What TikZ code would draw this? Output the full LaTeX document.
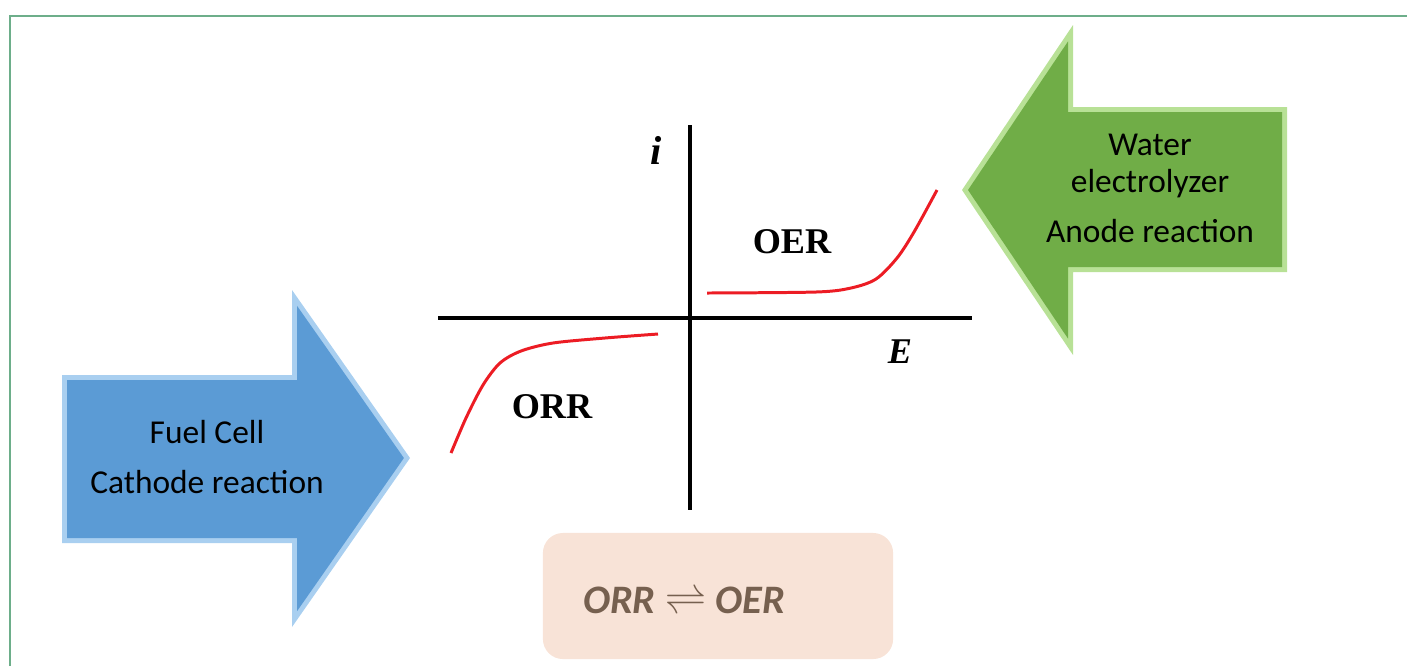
\documentclass[tikz,border=0pt]{standalone}
\usepackage{fontspec}
\setmainfont{Carlito}
\newfontfamily\plotfont{Liberation Serif}
\definecolor{framegreen}{HTML}{6DAE8A}
\definecolor{bluemain}{HTML}{5B9BD5}
\definecolor{blueedge}{HTML}{A9CFF0}
\definecolor{greenmain}{HTML}{70AD47}
\definecolor{greenedge}{HTML}{B8E196}
\definecolor{curvered}{HTML}{EC1C24}
\definecolor{boxfill}{HTML}{F8E3D7}
\definecolor{boxtext}{HTML}{76604F}
\begin{document}
\begin{tikzpicture}[x=.01cm,y=-.01cm,arrowtext/.style={font=\fontsize{9.5}{11}\selectfont},plotlabel/.style={font=\plotfont\fontsize{10.3}{12}\selectfont\bfseries}]
\useasboundingbox(0,0) rectangle (1407,666);
\draw[framegreen,line width=.6pt](10,666)--(10,16)--(1407,16);
\foreach \d/\c in {0/blueedge,5/bluemain}{\fill[\c]({62+\d},{375+\d})--({292+\d},{375+\d})--({292+\d},{290+3.16*\d})--({410-1.22*\d},458)--({292+\d},{627-3.16*\d})--({292+\d},{543-\d})--({62+\d},{543-\d})--cycle;}
\foreach \d/\c in {0/greenedge,5/greenmain}{\fill[\c]({1287-\d},{107+\d})--({1073-\d},{107+\d})--({1073-\d},{25+3.28*\d})--({962+1.2*\d},190)--({1073-\d},{355-3.28*\d})--({1073-\d},{272-\d})--({1287-\d},{272-\d})--cycle;}
\node[arrowtext,anchor=base](fuel)at(207,443){Fuel Cell};
\node[arrowtext,anchor=base](cathode)at(207,493){Cathode reaction};
\node[arrowtext,anchor=base](water)at(1150,155){Water};
\node[arrowtext,anchor=base](electrolyzer)at(1150,192){electrolyzer};
\node[arrowtext,anchor=base](anode)at(1150,242){Anode reaction};
\draw[line width=1pt](438,318)--(972,318);\draw[line width=1pt](690,125)--(690,510);
\draw[curvered,line width=.85pt]plot[smooth]coordinates{(707,293)(816,292)(851,288)(876,279)(897,258)(914,232)(937,190)};
\draw[curvered,line width=.85pt]plot[smooth]coordinates{(451,453)(466,418)(483,385)(500,363)(521,351)(553,343)(605,338)(658,334)};
\node[plotlabel,font=\plotfont\fontsize{11.5}{13}\selectfont\bfseries](ilabel)at(656,150){\itshape i};\node[plotlabel](elabel)at(900,352){\itshape E};
\node[plotlabel](oer)at(792,242){OER};\node[plotlabel](orr)at(552,407){ORR};
\node[fill=boxfill,rounded corners=.2cm,minimum width=3.5cm,minimum height=1.26cm](eqbox)at(718,596){};
\node[text=boxtext,font=\fontsize{11.5}{13}\selectfont\bfseries\itshape,anchor=base](eq)at(684,613){ORR $\rightleftharpoons$ OER};
\end{tikzpicture}
\end{document}
